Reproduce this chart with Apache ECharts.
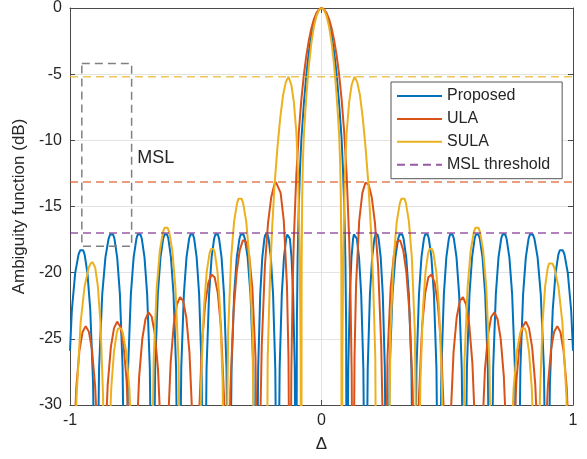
<!DOCTYPE html>
<html><head><meta charset="utf-8">
<script src="https://cdn.jsdelivr.net/npm/echarts@6/dist/echarts.min.js"></script>
<style>html,body{margin:0;padding:0;background:#fff}#c{width:587px;height:459px}</style>
</head><body><div id="c"></div>
<script>
// Tick values
const xTickInterval = 1;
const yTickInterval = 5;

// Proposed (blue) ambiguity function, [delta, dB]
const proposed = [
[-1,-25.9],[-0.9926,-22.82],[-0.9794,-20.04],[-0.9662,-18.64],[-0.9596,-18.31],[-0.953,-18.2],[-0.9474,-18.31],[-0.9418,-18.64],[-0.9306,-20.04],[-0.9194,-22.82],[-0.9082,-28.4],
[-0.897,-45],[-0.8844,-27.2],[-0.8718,-21.62],[-0.8592,-18.84],[-0.8466,-17.44],[-0.8403,-17.11],[-0.834,-17],[-0.8286,-17.11],[-0.8232,-17.44],[-0.8124,-18.84],[-0.8016,-21.62],[-0.7908,-27.2],
[-0.78,-45],[-0.769,-27.2],[-0.758,-21.62],[-0.747,-18.84],[-0.736,-17.44],[-0.7305,-17.11],[-0.725,-17],[-0.7197,-17.11],[-0.7144,-17.44],[-0.7038,-18.84],[-0.6932,-21.62],[-0.6826,-27.2],
[-0.672,-45],[-0.6614,-27.2],[-0.6508,-21.62],[-0.6402,-18.84],[-0.6296,-17.44],[-0.6243,-17.11],[-0.619,-17],[-0.6139,-17.11],[-0.6088,-17.44],[-0.5986,-18.84],[-0.5884,-21.62],[-0.5782,-27.2],
[-0.568,-45],[-0.5576,-27.2],[-0.5472,-21.62],[-0.5368,-18.84],[-0.5264,-17.44],[-0.5212,-17.11],[-0.516,-17],[-0.5111,-17.11],[-0.5062,-17.44],[-0.4964,-18.84],[-0.4866,-21.62],[-0.4768,-27.2],
[-0.467,-45],[-0.457,-27.2],[-0.447,-21.62],[-0.437,-18.84],[-0.427,-17.44],[-0.422,-17.11],[-0.417,-17],[-0.4121,-17.11],[-0.4072,-17.44],[-0.3974,-18.84],[-0.3876,-21.62],[-0.3778,-27.2],
[-0.368,-45],[-0.3576,-27.2],[-0.3472,-21.62],[-0.3368,-18.84],[-0.3264,-17.44],[-0.3212,-17.11],[-0.316,-17],[-0.3104,-17.11],[-0.3048,-17.44],[-0.2936,-18.84],[-0.2824,-21.62],[-0.2712,-27.2],
[-0.26,-45],[-0.2518,-27.2],[-0.2436,-21.62],[-0.2354,-18.84],[-0.2272,-17.44],[-0.2231,-17.11],[-0.219,-17],[-0.2146,-17.11],[-0.2102,-17.44],[-0.2014,-18.84],[-0.1926,-21.62],[-0.1838,-27.2],
[-0.175,-45],[-0.1664,-27.2],[-0.1578,-21.62],[-0.1492,-18.84],[-0.1406,-17.44],[-0.1363,-17.11],[-0.132,-17],[-0.1288,-17.11],[-0.1256,-17.44],[-0.1192,-18.84],[-0.1128,-21.62],[-0.1064,-27.2],
[-0.1,-45],[-0.098,-24],[-0.095,-19],[-0.09,-14.8],[-0.085,-12],[-0.08,-9.9],[-0.07,-7.2],[-0.06,-5],[-0.05,-3.3],[-0.04,-2.05],[-0.03,-1.15],[-0.02,-0.5],[-0.01,-0.12],
[0,0],
[0.01,-0.12],[0.02,-0.5],[0.03,-1.15],[0.04,-2.05],[0.05,-3.3],[0.06,-5],[0.07,-7.2],[0.08,-9.9],[0.085,-12],[0.09,-14.8],[0.095,-19],[0.098,-24],[0.1,-45],
[0.1064,-27.2],[0.1128,-21.62],[0.1192,-18.84],[0.1256,-17.44],[0.1288,-17.11],[0.132,-17],[0.1363,-17.11],[0.1406,-17.44],[0.1492,-18.84],[0.1578,-21.62],[0.1664,-27.2],[0.175,-45],
[0.1838,-27.2],[0.1926,-21.62],[0.2014,-18.84],[0.2102,-17.44],[0.2146,-17.11],[0.219,-17],[0.2231,-17.11],[0.2272,-17.44],[0.2354,-18.84],[0.2436,-21.62],[0.2518,-27.2],[0.26,-45],
[0.2712,-27.2],[0.2824,-21.62],[0.2936,-18.84],[0.3048,-17.44],[0.3104,-17.11],[0.316,-17],[0.3212,-17.11],[0.3264,-17.44],[0.3368,-18.84],[0.3472,-21.62],[0.3576,-27.2],[0.368,-45],
[0.3778,-27.2],[0.3876,-21.62],[0.3974,-18.84],[0.4072,-17.44],[0.4121,-17.11],[0.417,-17],[0.422,-17.11],[0.427,-17.44],[0.437,-18.84],[0.447,-21.62],[0.457,-27.2],[0.467,-45],
[0.4768,-27.2],[0.4866,-21.62],[0.4964,-18.84],[0.5062,-17.44],[0.5111,-17.11],[0.516,-17],[0.5212,-17.11],[0.5264,-17.44],[0.5368,-18.84],[0.5472,-21.62],[0.5576,-27.2],[0.568,-45],
[0.5782,-27.2],[0.5884,-21.62],[0.5986,-18.84],[0.6088,-17.44],[0.6139,-17.11],[0.619,-17],[0.6243,-17.11],[0.6296,-17.44],[0.6402,-18.84],[0.6508,-21.62],[0.6614,-27.2],[0.672,-45],
[0.6826,-27.2],[0.6932,-21.62],[0.7038,-18.84],[0.7144,-17.44],[0.7197,-17.11],[0.725,-17],[0.7305,-17.11],[0.736,-17.44],[0.747,-18.84],[0.758,-21.62],[0.769,-27.2],[0.78,-45],
[0.7908,-27.2],[0.8016,-21.62],[0.8124,-18.84],[0.8232,-17.44],[0.8286,-17.11],[0.834,-17],[0.8403,-17.11],[0.8466,-17.44],[0.8592,-18.84],[0.8718,-21.62],[0.8844,-27.2],[0.897,-45],
[0.9082,-28.4],[0.9194,-22.82],[0.9306,-20.04],[0.9418,-18.64],[0.9474,-18.31],[0.953,-18.2],[0.9596,-18.31],[0.9662,-18.64],[0.9794,-20.04],[0.9926,-22.82],[1,-25.9]
];

// ULA (red)
const ula = [
[-1,-45],[-0.9875,-34.28],[-0.975,-28.69],[-0.9625,-25.9],[-0.95,-24.49],[-0.9375,-24.04],[-0.925,-24.46],[-0.9125,-25.84],[-0.9,-28.59],[-0.8875,-34.14],
[-0.875,-45],[-0.8625,-34.08],[-0.85,-28.46],[-0.8375,-25.63],[-0.825,-24.19],[-0.8125,-23.7],[-0.8,-24.08],[-0.7875,-25.41],[-0.775,-28.15],[-0.7625,-33.66],
[-0.75,-45],[-0.7375,-33.52],[-0.725,-27.86],[-0.7125,-25],[-0.7,-23.52],[-0.6875,-22.99],[-0.675,-23.33],[-0.6625,-24.64],[-0.65,-27.31],[-0.6375,-32.79],
[-0.625,-45],[-0.6125,-32.56],[-0.6,-26.86],[-0.5875,-23.95],[-0.575,-22.42],[-0.5625,-21.84],[-0.55,-22.14],[-0.5375,-23.39],[-0.525,-26.02],[-0.5125,-31.44],
[-0.5,-45],[-0.4875,-31.1],[-0.475,-25.34],[-0.4625,-22.37],[-0.45,-20.77],[-0.4375,-20.13],[-0.425,-20.35],[-0.4125,-21.53],[-0.4,-24.08],[-0.3875,-29.42],
[-0.375,-45],[-0.3625,-28.91],[-0.35,-23.06],[-0.3375,-20],[-0.325,-18.3],[-0.3125,-17.55],[-0.3,-17.66],[-0.2875,-18.72],[-0.275,-21.14],[-0.2625,-26.34],
[-0.25,-45],[-0.24375,-31.6],[-0.2375,-25.5],[-0.225,-19.48],[-0.2125,-16.23],[-0.2,-14.32],[-0.1875,-13.34],[-0.18125,-13.16],[-0.175,-13.19],[-0.1625,-13.97],[-0.15,-16.06],[-0.1375,-20.9],[-0.13125,-26.4],
[-0.125,-45],[-0.12,-27.6],[-0.115,-21.26],[-0.11,-17.47],[-0.1,-12.58],[-0.09,-9.33],[-0.08,-6.91],[-0.07,-5.04],[-0.06,-3.57],[-0.05,-2.41],[-0.04,-1.51],[-0.03,-0.84],[-0.02,-0.37],[-0.01,-0.09],
[0,0],
[0.01,-0.09],[0.02,-0.37],[0.03,-0.84],[0.04,-1.51],[0.05,-2.41],[0.06,-3.57],[0.07,-5.04],[0.08,-6.91],[0.09,-9.33],[0.1,-12.58],[0.11,-17.47],[0.115,-21.26],[0.12,-27.6],[0.125,-45],
[0.13125,-26.4],[0.1375,-20.9],[0.15,-16.06],[0.1625,-13.97],[0.175,-13.19],[0.18125,-13.16],[0.1875,-13.34],[0.2,-14.32],[0.2125,-16.23],[0.225,-19.48],[0.2375,-25.5],[0.24375,-31.6],[0.25,-45],
[0.2625,-26.34],[0.275,-21.14],[0.2875,-18.72],[0.3,-17.66],[0.3125,-17.55],[0.325,-18.3],[0.3375,-20],[0.35,-23.06],[0.3625,-28.91],[0.375,-45],
[0.3875,-29.42],[0.4,-24.08],[0.4125,-21.53],[0.425,-20.35],[0.4375,-20.13],[0.45,-20.77],[0.4625,-22.37],[0.475,-25.34],[0.4875,-31.1],[0.5,-45],
[0.5125,-31.44],[0.525,-26.02],[0.5375,-23.39],[0.55,-22.14],[0.5625,-21.84],[0.575,-22.42],[0.5875,-23.95],[0.6,-26.86],[0.6125,-32.56],[0.625,-45],
[0.6375,-32.79],[0.65,-27.31],[0.6625,-24.64],[0.675,-23.33],[0.6875,-22.99],[0.7,-23.52],[0.7125,-25],[0.725,-27.86],[0.7375,-33.52],[0.75,-45],
[0.7625,-33.66],[0.775,-28.15],[0.7875,-25.41],[0.8,-24.08],[0.8125,-23.7],[0.825,-24.19],[0.8375,-25.63],[0.85,-28.46],[0.8625,-34.08],[0.875,-45],
[0.8875,-34.14],[0.9,-28.59],[0.9125,-25.84],[0.925,-24.46],[0.9375,-24.04],[0.95,-24.49],[0.9625,-25.9],[0.975,-28.69],[0.9875,-34.28],[1,-45]
];

// SULA (yellow)
const sula = [
[-1,-45],[-0.99,-45],[-0.974,-29.4],[-0.958,-23.82],[-0.942,-21.04],[-0.926,-19.64],[-0.918,-19.31],[-0.91,-19.2],[-0.9048,-19.31],[-0.8996,-19.64],[-0.8892,-21.04],[-0.8788,-23.82],[-0.8684,-29.4],
[-0.858,-45],[-0.847,-34.3],[-0.836,-28.72],[-0.825,-25.94],[-0.814,-24.54],[-0.8085,-24.21],[-0.803,-24.1],[-0.7965,-24.21],[-0.79,-24.54],[-0.777,-25.94],[-0.764,-28.72],[-0.751,-34.3],[-0.738,-45],
[-0.68,-45],[-0.6676,-26.7],[-0.6552,-21.12],[-0.6428,-18.34],[-0.6304,-16.94],[-0.6242,-16.61],[-0.618,-16.5],[-0.6118,-16.61],[-0.6056,-16.94],[-0.5932,-18.34],[-0.5808,-21.12],[-0.5684,-26.7],[-0.556,-45],
[-0.49,-45],[-0.4788,-28.3],[-0.4676,-22.72],[-0.4564,-19.94],[-0.4452,-18.54],[-0.4396,-18.21],[-0.434,-18.1],[-0.4289,-18.21],[-0.4238,-18.54],[-0.4136,-19.94],[-0.4034,-22.72],[-0.3932,-28.3],
[-0.383,-45],[-0.3712,-24.5],[-0.3594,-18.92],[-0.3476,-16.14],[-0.3358,-14.74],[-0.3299,-14.41],[-0.324,-14.3],[-0.3178,-14.41],[-0.3116,-14.74],[-0.2992,-16.14],[-0.2868,-18.92],[-0.2744,-24.5],[-0.262,-45],
[-0.219,-45],[-0.214,-26.5],[-0.205,-20.5],[-0.196,-16.5],[-0.186,-13.2],[-0.175,-10.5],[-0.164,-8.3],[-0.153,-6.6],[-0.142,-5.6],[-0.131,-5.2],[-0.12,-5.8],[-0.11,-7.1],[-0.1,-9.4],[-0.093,-12.6],[-0.087,-18],[-0.083,-26],
[-0.08,-45],[-0.079,-20],[-0.077,-14.5],[-0.074,-11.6],[-0.07,-9.6],[-0.065,-8],[-0.06,-6.6],[-0.055,-5.4],[-0.05,-4.3],[-0.04,-2.6],[-0.03,-1.4],[-0.02,-0.6],[-0.01,-0.15],
[0,0],
[0.01,-0.15],[0.02,-0.6],[0.03,-1.4],[0.04,-2.6],[0.05,-4.3],[0.055,-5.4],[0.06,-6.6],[0.065,-8],[0.07,-9.6],[0.074,-11.6],[0.077,-14.5],[0.079,-20],[0.08,-45],
[0.083,-26],[0.087,-18],[0.093,-12.6],[0.1,-9.4],[0.11,-7.1],[0.12,-5.8],[0.131,-5.2],[0.142,-5.6],[0.153,-6.6],[0.164,-8.3],[0.175,-10.5],[0.186,-13.2],[0.196,-16.5],[0.205,-20.5],[0.214,-26.5],[0.219,-45],
[0.262,-45],[0.2744,-24.5],[0.2868,-18.92],[0.2992,-16.14],[0.3116,-14.74],[0.3178,-14.41],[0.324,-14.3],[0.3299,-14.41],[0.3358,-14.74],[0.3476,-16.14],[0.3594,-18.92],[0.3712,-24.5],[0.383,-45],
[0.3932,-28.3],[0.4034,-22.72],[0.4136,-19.94],[0.4238,-18.54],[0.4289,-18.21],[0.434,-18.1],[0.4396,-18.21],[0.4452,-18.54],[0.4564,-19.94],[0.4676,-22.72],[0.4788,-28.3],[0.49,-45],
[0.556,-45],[0.5684,-26.7],[0.5808,-21.12],[0.5932,-18.34],[0.6056,-16.94],[0.6118,-16.61],[0.618,-16.5],[0.6242,-16.61],[0.6304,-16.94],[0.6428,-18.34],[0.6552,-21.12],[0.6676,-26.7],[0.68,-45],
[0.738,-45],[0.751,-34.3],[0.764,-28.72],[0.777,-25.94],[0.79,-24.54],[0.7965,-24.21],[0.803,-24.1],[0.8085,-24.21],[0.814,-24.54],[0.825,-25.94],[0.836,-28.72],[0.847,-34.3],[0.858,-45],
[0.8684,-29.4],[0.8788,-23.82],[0.8892,-21.04],[0.8996,-19.64],[0.9048,-19.31],[0.91,-19.2],[0.918,-19.31],[0.926,-19.64],[0.942,-21.04],[0.958,-23.82],[0.974,-29.4],[0.99,-45],[1,-45]
];

// MSL reference levels (dB)
const mslSula = -5.2;
const mslUla = -13.15;
const mslThreshold = -17;
// MSL annotation box (delta range, dB range) and label anchor
const mslBoxDelta = [-0.953, -0.755];
const mslBoxDb = [-4.2, -18.0];
const mslLabelAt = [-0.733, -11.35];

const FONT = 'Liberation Sans, Arial, Helvetica, sans-serif';
const AX = '#4a4a4a';
const TXT = '#262626';

function hline(v){ return [[-1, v],[1, v]]; }
const box = [
  [mslBoxDelta[0], mslBoxDb[0]], [mslBoxDelta[1], mslBoxDb[0]],
  [mslBoxDelta[1], mslBoxDb[1]], [mslBoxDelta[0], mslBoxDb[1]],
  [mslBoxDelta[0], mslBoxDb[0]]
];

const chart = echarts.init(document.getElementById('c'), null, {renderer:'canvas'});
const axisCommon = {
  type:'value',
  axisLine:{show:true, onZero:false, lineStyle:{color:AX, width:1}},
  axisTick:{show:true, inside:true, length:5, lineStyle:{color:AX}},
};
chart.setOption({
  animation:false,
  textStyle:{fontFamily:FONT},
  grid:{left:70, right:14, top:6, bottom:54, containLabel:false},
  legend:{
    data:['Proposed','ULA','SULA','MSL threshold'],
    orient:'vertical', left:391, top:82,
    itemWidth:45, itemHeight:14, itemGap:6.9,
    padding:[6,12,6,5],
    borderColor:'#555', borderWidth:1, backgroundColor:'#fff',
    selectedMode:false,
    itemStyle:{opacity:0},
    textStyle:{fontSize:16, color:TXT, fontFamily:FONT}
  },
  xAxis:[
    Object.assign({}, axisCommon, {
      min:-1, max:1, interval:xTickInterval, position:'bottom',
      axisLabel:{fontSize:16, color:TXT, margin:8, fontFamily:FONT},
      splitLine:{show:true, lineStyle:{color:'#e3e3e3', width:1}},
      name:'Δ', nameLocation:'middle', nameGap:31,
      nameTextStyle:{fontSize:17, color:TXT, fontFamily:FONT}
    }),
    Object.assign({}, axisCommon, {
      min:-1, max:1, interval:xTickInterval, position:'top',
      axisLabel:{show:false}, splitLine:{show:false}
    })
  ],
  yAxis:[
    Object.assign({}, axisCommon, {
      min:-30, max:0, interval:yTickInterval, position:'left',
      axisLabel:{fontSize:16, color:TXT, margin:8, fontFamily:FONT},
      splitLine:{show:true, lineStyle:{color:'#e3e3e3', width:1}},
      name:'Ambiguity function (dB)', nameLocation:'middle', nameGap:40,
      nameTextStyle:{fontSize:17, color:TXT, fontFamily:FONT}
    }),
    Object.assign({}, axisCommon, {
      min:-30, max:0, interval:yTickInterval, position:'right',
      axisLabel:{show:false}, splitLine:{show:false}
    })
  ],
  series:[
    {name:'Proposed', type:'line', data:proposed, symbol:'none', clip:true,
     lineStyle:{color:'#0072BD', width:2}, itemStyle:{color:'#0072BD'}},
    {name:'ULA', type:'line', data:ula, symbol:'none', clip:true,
     lineStyle:{color:'#D95319', width:2}, itemStyle:{color:'#D95319'}},
    {name:'SULA', type:'line', data:sula, symbol:'none', clip:true,
     lineStyle:{color:'#EDB120', width:2}, itemStyle:{color:'#EDB120'}},
    {name:'SULA MSL', type:'line', data:hline(mslSula), symbol:'none',
     lineStyle:{color:'#EDB120', width:1.6, type:[8,5], opacity:0.75}},
    {name:'ULA MSL', type:'line', data:hline(mslUla), symbol:'none',
     lineStyle:{color:'#D95319', width:1.6, type:[8,5], opacity:0.75}},
    {name:'MSL threshold', type:'line', data:hline(mslThreshold), symbol:'none',
     lineStyle:{color:'#7E2F8E', width:1.6, type:[8,5], opacity:0.8}, itemStyle:{color:'#7E2F8E'}},
    {name:'MSL box', type:'line', data:box, symbol:'none',
     lineStyle:{color:'#808080', width:1.5, type:[8,5]}},
    {name:'MSL label', type:'scatter', data:[mslLabelAt], symbolSize:0,
     itemStyle:{color:TXT, opacity:1},
     label:{show:true, position:'right', distance:0, formatter:'MSL',
            fontSize:18, color:TXT, opacity:1, fontFamily:FONT}}
  ]
});
</script>
</body></html>
